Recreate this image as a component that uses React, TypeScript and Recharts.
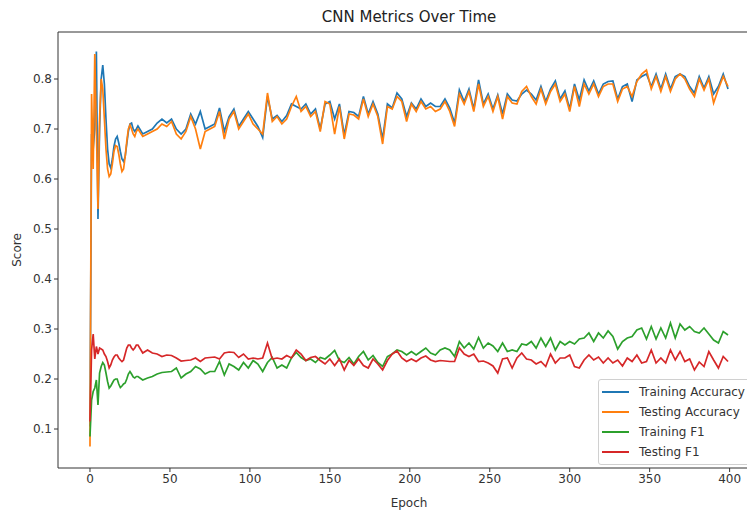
import { LineChart, Line, XAxis, YAxis, Legend, ReferenceLine } from 'recharts';

// epochs 0..30 read one by one, then every third epoch
const earlyEpochs = [0,1,2,3,4,5,6,7,8,9,10,11,12,13,14,15,16,17,18,19,20,21,22,23,24,25,26,27,28,29,30];
const epochs = [...earlyEpochs, ...Array.from({ length: 122 }, (_, i) => 33 + 3 * i), 399];

const trainAcc = [
  0.105,0.69,0.66,0.70,0.855,0.52,0.70,0.80,0.828,0.79,0.72,0.66,0.63,0.622,0.64,0.665,0.68,0.685,0.672,0.655,0.64,0.635,0.645,0.67,0.695,0.71,0.712,0.70,0.695,0.70,0.706,
  0.69,0.695,0.70,0.712,0.72,0.712,0.72,0.70,0.69,0.70,0.73,0.71,0.735,0.70,0.705,0.71,0.742,0.695,0.725,0.74,
  0.705,0.72,0.735,0.72,0.705,0.683,0.765,0.72,0.727,0.715,0.727,0.75,0.745,0.74,0.75,0.73,0.74,0.70,0.75,0.755,
  0.72,0.75,0.688,0.735,0.733,0.725,0.765,0.73,0.755,0.73,0.68,0.75,0.742,0.772,0.76,0.725,0.752,0.74,0.76,0.745,
  0.752,0.745,0.745,0.76,0.742,0.712,0.778,0.755,0.78,0.74,0.798,0.75,0.77,0.74,0.768,0.73,0.77,0.758,0.756,0.77,
  0.778,0.77,0.758,0.785,0.755,0.78,0.796,0.76,0.776,0.74,0.79,0.758,0.798,0.776,0.796,0.77,0.79,0.795,0.796,0.76,
  0.785,0.79,0.755,0.798,0.805,0.81,0.785,0.81,0.78,0.81,0.78,0.805,0.81,0.805,0.785,0.772,0.805,0.782,0.805,0.77,
  0.785,0.81,0.78,
];

const testAcc = [
  0.065,0.77,0.62,0.85,0.70,0.54,0.72,0.80,0.78,0.72,0.66,0.62,0.605,0.61,0.63,0.655,0.667,0.665,0.65,0.63,0.615,0.62,0.645,0.675,0.70,0.708,0.70,0.69,0.685,0.695,0.70,
  0.685,0.69,0.695,0.70,0.71,0.705,0.715,0.69,0.68,0.695,0.725,0.70,0.66,0.695,0.70,0.705,0.735,0.68,0.72,0.735,
  0.70,0.715,0.73,0.71,0.70,0.69,0.772,0.715,0.725,0.71,0.72,0.745,0.765,0.735,0.745,0.725,0.735,0.695,0.755,0.75,
  0.69,0.745,0.68,0.73,0.728,0.72,0.76,0.725,0.75,0.725,0.67,0.745,0.74,0.765,0.755,0.715,0.75,0.735,0.755,0.74,
  0.745,0.735,0.74,0.755,0.735,0.705,0.77,0.75,0.775,0.735,0.79,0.745,0.765,0.735,0.765,0.72,0.765,0.752,0.75,0.775,
  0.785,0.765,0.75,0.78,0.75,0.775,0.79,0.755,0.77,0.735,0.785,0.745,0.79,0.77,0.79,0.765,0.785,0.79,0.79,0.755,
  0.78,0.785,0.765,0.795,0.81,0.818,0.78,0.805,0.775,0.805,0.775,0.80,0.81,0.80,0.78,0.765,0.80,0.778,0.80,0.752,
  0.78,0.805,0.785,
];

const trainF1 = [
  0.085,0.158,0.175,0.182,0.198,0.148,0.212,0.225,0.233,0.228,0.212,0.195,0.182,0.186,0.192,0.198,0.20,0.20,0.19,0.183,0.186,0.19,0.192,0.20,0.21,0.215,0.21,0.204,0.202,0.205,0.205,
  0.198,0.202,0.205,0.21,0.213,0.214,0.215,0.222,0.202,0.21,0.215,0.225,0.22,0.21,0.215,0.215,0.235,0.208,0.23,0.225,
  0.218,0.233,0.222,0.237,0.23,0.215,0.233,0.243,0.222,0.228,0.222,0.242,0.253,0.243,0.237,0.24,0.233,0.243,0.24,0.248,
  0.257,0.237,0.233,0.243,0.23,0.245,0.255,0.238,0.247,0.233,0.225,0.245,0.25,0.258,0.255,0.248,0.255,0.248,0.255,0.262,
  0.252,0.248,0.258,0.262,0.258,0.245,0.275,0.262,0.272,0.26,0.283,0.262,0.272,0.266,0.255,0.272,0.255,0.258,0.255,0.27,
  0.268,0.275,0.262,0.282,0.265,0.282,0.258,0.275,0.268,0.275,0.27,0.28,0.282,0.292,0.275,0.292,0.282,0.296,0.285,0.26,
  0.275,0.282,0.285,0.298,0.302,0.28,0.305,0.28,0.302,0.282,0.312,0.282,0.31,0.298,0.305,0.295,0.292,0.302,0.29,0.278,
  0.272,0.295,0.288,
];

const testF1 = [
  0.115,0.258,0.29,0.24,0.265,0.25,0.262,0.26,0.258,0.25,0.245,0.235,0.222,0.228,0.238,0.244,0.248,0.248,0.242,0.238,0.235,0.238,0.25,0.262,0.268,0.268,0.262,0.258,0.262,0.268,0.268,
  0.252,0.258,0.252,0.25,0.245,0.248,0.247,0.242,0.236,0.237,0.238,0.242,0.235,0.242,0.243,0.244,0.24,0.252,0.254,0.253,
  0.243,0.25,0.24,0.242,0.24,0.242,0.272,0.24,0.242,0.24,0.247,0.242,0.258,0.25,0.237,0.243,0.245,0.237,0.23,0.24,
  0.227,0.24,0.218,0.237,0.227,0.24,0.227,0.222,0.24,0.23,0.218,0.237,0.25,0.256,0.242,0.235,0.24,0.235,0.242,0.246,
  0.238,0.235,0.237,0.236,0.235,0.235,0.262,0.25,0.245,0.25,0.235,0.236,0.232,0.226,0.212,0.24,0.242,0.222,0.242,0.252,
  0.24,0.238,0.23,0.235,0.225,0.25,0.232,0.242,0.242,0.248,0.225,0.222,0.238,0.248,0.238,0.244,0.232,0.242,0.232,0.238,
  0.226,0.242,0.235,0.248,0.232,0.235,0.258,0.232,0.242,0.232,0.258,0.238,0.255,0.235,0.24,0.218,0.234,0.225,0.255,0.238,
  0.222,0.245,0.235,
];

const xTicks = [0, 50, 100, 150, 200, 250, 300, 350, 400];
const yTicks = [0.1, 0.2, 0.3, 0.4, 0.5, 0.6, 0.7, 0.8];

const series = [
  { key: 'trainAcc', name: 'Training Accuracy', color: '#1f77b4' },
  { key: 'testAcc', name: 'Testing Accuracy', color: '#ff7f0e' },
  { key: 'trainF1', name: 'Training F1', color: '#2ca02c' },
  { key: 'testF1', name: 'Testing F1', color: '#d62728' },
];

const data = epochs.map((epoch, i) => ({
  epoch,
  trainAcc: trainAcc[i],
  testAcc: testAcc[i],
  trainF1: trainF1[i],
  testF1: testF1[i],
}));

const ink = '#333';
const tick = { fill: ink, fontSize: 12 } as const;

// matplotlib-like legend box, kept in series order
function LegendBox() {
  return (
    <div style={{
      border: '1px solid #d0d0d0', borderRadius: 3, background: 'rgba(255,255,255,0.85)',
      padding: '2px 0 2px 3px', width: 160, boxSizing: 'border-box',
    }}>
      {series.map((s) => (
        <div key={s.key} style={{ display: 'flex', alignItems: 'center', height: 20, whiteSpace: 'nowrap' }}>
          <span style={{ display: 'inline-block', width: 27, height: 2, background: s.color, marginRight: 10 }} />
          <span style={{ fontSize: 12, color: ink }}>{s.name}</span>
        </div>
      ))}
    </div>
  );
}

export default function App() {
  return (
    <div style={{ position: 'absolute', left: 0, top: 0, width: 747, height: 510, overflow: 'hidden', background: '#fff', fontFamily: '"DejaVu Sans", sans-serif' }}>
      <div style={{ position: 'absolute', left: 58, width: 702, top: 8, textAlign: 'center', fontSize: 15, color: '#222' }}>
        CNN Metrics Over Time
      </div>
      <LineChart width={780} height={510} data={data} margin={{ top: 32, right: 20, bottom: 0, left: 0 }}>
        <XAxis
          type="number" dataKey="epoch" domain={[-20, 419]} ticks={xTicks} allowDataOverflow
          height={42} tick={tick} tickSize={4} tickLine={{ stroke: ink }} axisLine={{ stroke: ink }}
          label={{ value: 'Epoch', position: 'insideBottom', offset: 3, fill: ink, fontSize: 12 }}
        />
        <YAxis
          type="number" domain={[0.022, 0.894]} ticks={yTicks} allowDataOverflow width={58}
          tick={tick} tickSize={4} tickLine={{ stroke: ink }} axisLine={{ stroke: ink }}
          tickFormatter={(v: number) => v.toFixed(1)}
          label={{ value: 'Score', angle: -90, position: 'insideLeft', offset: 17, fill: ink, fontSize: 12, style: { textAnchor: 'middle' } }}
        />
        <ReferenceLine y={0.894} stroke={ink} ifOverflow="visible" />
        <ReferenceLine x={419} stroke={ink} ifOverflow="visible" />
        {series.map((s) => (
          <Line key={s.key} type="linear" dataKey={s.key} name={s.name} stroke={s.color} strokeWidth={1.7} dot={false} isAnimationActive={false} />
        ))}
        <Legend
          layout="vertical" align="center" verticalAlign="middle" content={LegendBox}
          wrapperStyle={{ position: 'absolute', left: 598, top: 379, width: 160 }}
        />
      </LineChart>
    </div>
  );
}
